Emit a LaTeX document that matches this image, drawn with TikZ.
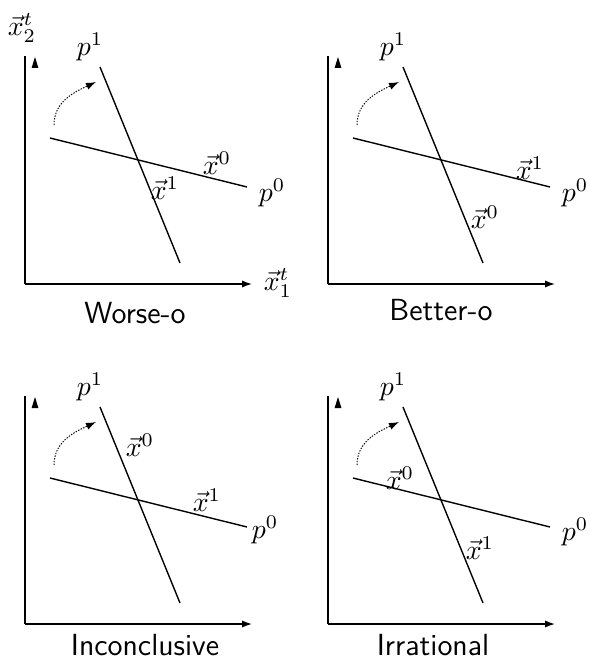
\documentclass[tikz,border=0pt]{standalone}
\usetikzlibrary{arrows.meta}
\newcommand\panelbase{%
  \coordinate (O) at (25,284);
  \coordinate (Y) at (25,56);
  \coordinate (X) at (252,284);
  \coordinate (P1a) at (100,67);
  \coordinate (P1b) at (180,263);
  \coordinate (P0a) at (50,138);
  \coordinate (P0b) at (247,187);
  \coordinate (Ta) at (54,125);
  \coordinate (Tb) at (96,82);
  \draw[axis] (Y) -- (O);
  \draw[axis,-{Latex[length=3.6pt,width=2.6pt]}] (O) -- (X);
  \fill (35,57) -- (31.6,68) -- (38.4,68) -- cycle;
  \draw[pline] (P1a) -- (P1b);
  \draw[pline] (P0a) -- (P0b);
  \draw[turn] (Ta) to[out=90,in=205] (Tb);
  \node[lbl] (p1) at (90,47) {$p^1$};
}
\begin{document}
\begin{tikzpicture}[x=0.36pt,y=-0.36pt,
  axis/.style={line width=0.5pt},
  pline/.style={line width=0.5pt},
  turn/.style={line width=0.35pt,dash pattern=on 0.5pt off 0.5pt,-{Latex[length=3.6pt,width=2.6pt]}},
  lbl/.style={inner sep=0pt,font=\fontsize{10}{12}\selectfont},
  capt/.style={inner sep=0pt,font=\sffamily\fontsize{11}{13}\selectfont}]
\useasboundingbox (0,0) rectangle (588,659);
% panel 1
\begin{scope}[name prefix=a-]
  \panelbase
  \node[lbl] (p0) at (272,193) {$p^0$};
  \node[lbl] (x0) at (217,163) {$\vec{x}^0$};
  \node[lbl] (x1) at (165,188) {$\vec{x}^1$};
  \node[lbl] (xt1) at (278,283) {$\vec{x}^t_1$};
  \node[lbl] (xt2) at (22,28) {$\vec{x}^t_2$};
  \node[capt] (cap) at (135,313) {Worse-o};
\end{scope}
% panel 2
\begin{scope}[shift={(303,0)},name prefix=b-]
  \panelbase
  \node[lbl] (p0) at (272,193) {$p^0$};
  \node[lbl] (x1) at (227,168) {$\vec{x}^1$};
  \node[lbl] (x0) at (182,217) {$\vec{x}^0$};
  \node[capt] (cap) at (138,310) {Better-o};
\end{scope}
% panel 3
\begin{scope}[shift={(0,340)},name prefix=c-]
  \panelbase
  \node[lbl] (p0) at (265,190) {$p^0$};
  \node[lbl] (x0) at (140,105) {$\vec{x}^0$};
  \node[lbl] (x1) at (207,160) {$\vec{x}^1$};
  \node[capt] (cap) at (145,305) {Inconclusive};
\end{scope}
% panel 4
\begin{scope}[shift={(303,340)},name prefix=d-]
  \panelbase
  \node[lbl] (p0) at (272,192) {$p^0$};
  \node[lbl] (x0) at (97,138) {$\vec{x}^0$};
  \node[lbl] (x1) at (177,208) {$\vec{x}^1$};
  \node[capt] (cap) at (130,305) {Irrational};
\end{scope}
\end{tikzpicture}
\end{document}
